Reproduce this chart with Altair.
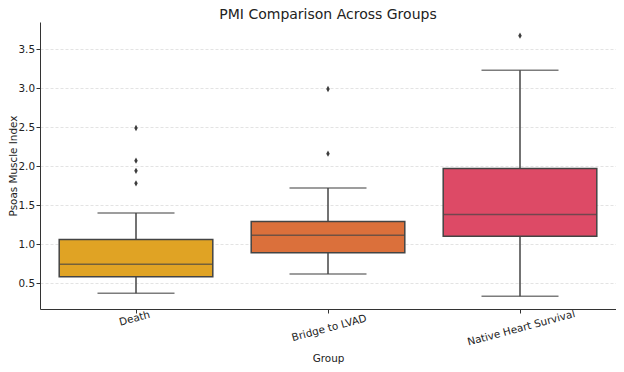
import altair as alt
import pandas as pd

groups = ["Death", "Bridge to LVAD", "Native Heart Survival"]
whisker_low = [0.37, 0.615, 0.33]
q1 = [0.58, 0.89, 1.10]
median = [0.74, 1.115, 1.38]
q3 = [1.06, 1.29, 1.97]
whisker_high = [1.40, 1.72, 3.23]
colors = ["#E0A324", "#DB703B", "#DD4A66"]

outlier_group = ["Death", "Death", "Death", "Death",
                 "Bridge to LVAD", "Bridge to LVAD",
                 "Native Heart Survival"]
outlier_value = [2.49, 2.07, 1.94, 1.78, 2.99, 2.16, 3.675]

y_ticks = [0.5, 1.0, 1.5, 2.0, 2.5, 3.0, 3.5]

stats = pd.DataFrame({
    "group": groups, "lo": whisker_low, "q1": q1, "med": median,
    "q3": q3, "hi": whisker_high,
})
outs = pd.DataFrame({"group": outlier_group, "value": outlier_value})

FONT = "DejaVu Sans"
EDGE = "#444444"
W, H = 576, 287
FS = 10.4

xenc = alt.X("group:N", sort=groups, title="Group",
             scale=alt.Scale(paddingInner=0, paddingOuter=0),
             axis=alt.Axis(labelAngle=345, labelAlign="center",
                           labelBaseline={"condition": {"test": "datum.value === 'Death'",
                                                        "value": "bottom"},
                                          "value": "top"},
                           labelFontSize=FS, labelColor="#222",
                           titleFontSize=FS, titleFontWeight="normal", titleColor="#222",
                           titleX=W / 2, titleY=49, titleBaseline="middle", titleAlign="center",
                           labelPadding=10, tickSize=4,
                           domainColor="#333", tickColor="#333", grid=False,
                           labelFont=FONT, titleFont=FONT))
yscale = alt.Scale(domain=[0.167, 3.85], nice=False, zero=False)
yaxis = alt.Axis(values=y_ticks, format=".1f", title="Psoas Muscle Index",
                 labelFontSize=FS, labelColor="#222", titleFontSize=FS,
                 titleFontWeight="normal", titleColor="#222",
                 titleX=-27, titleY=H / 2, titleBaseline="middle", titleAlign="center",
                 labelPadding=1.5, tickSize=4, domainColor="#333", tickColor="#333",
                 grid=True, gridDash=[3, 2], gridColor="#cccccc", gridOpacity=0.8,
                 gridWidth=0.7, labelFont=FONT, titleFont=FONT)

base = alt.Chart(stats)

grid_axis_layer = base.mark_rule(opacity=0).encode(
    x=xenc, y=alt.Y("lo:Q", scale=yscale, axis=yaxis))

w_low = base.mark_rule(color=EDGE, strokeWidth=1.5).encode(
    x=alt.X("group:N", sort=groups), y=alt.Y("lo:Q", scale=yscale), y2="q1:Q")
w_high = base.mark_rule(color=EDGE, strokeWidth=1.5).encode(
    x=alt.X("group:N", sort=groups), y=alt.Y("q3:Q", scale=yscale), y2="hi:Q")
cap_lo = base.mark_tick(color=EDGE, thickness=1.5, size=77, orient="horizontal").encode(
    x=alt.X("group:N", sort=groups), y=alt.Y("lo:Q", scale=yscale))
cap_hi = base.mark_tick(color=EDGE, thickness=1.5, size=77, orient="horizontal").encode(
    x=alt.X("group:N", sort=groups), y=alt.Y("hi:Q", scale=yscale))
box = base.mark_bar(width=alt.RelativeBandSize(0.8), stroke=EDGE, strokeWidth=1.5).encode(
    x=alt.X("group:N", sort=groups), y=alt.Y("q1:Q", scale=yscale), y2="q3:Q",
    color=alt.Color("group:N", scale=alt.Scale(domain=groups, range=colors), legend=None))
med = base.mark_tick(color=EDGE, thickness=1.5, size=154, orient="horizontal").encode(
    x=alt.X("group:N", sort=groups), y=alt.Y("med:Q", scale=yscale))
pts = alt.Chart(outs).mark_point(
    shape="M0,-1L0.55,0L0,1L-0.55,0Z", filled=True, color="#3d3d3d", opacity=1, size=40
).encode(x=alt.X("group:N", sort=groups), y=alt.Y("value:Q", scale=yscale))

chart = alt.layer(grid_axis_layer, w_low, w_high, cap_lo, cap_hi, box, med, pts).properties(
    width=W, height=H,
    title=alt.TitleParams("PMI Comparison Across Groups", fontSize=14, font=FONT,
                          fontWeight="normal", color="#222", offset=0),
    autosize=alt.AutoSizeParams(type="none"),
    padding={"left": 32, "top": 14, "right": 0, "bottom": 55},
).configure_view(stroke=None).configure_axisY(zindex=1)

chart.save("out.html", embed_options={"renderer": "svg", "actions": False})
